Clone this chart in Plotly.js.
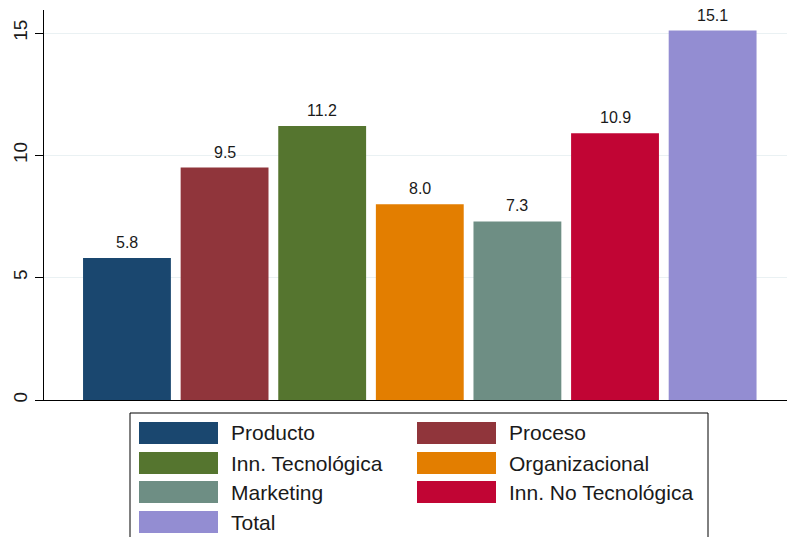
<!DOCTYPE html>
<html>
<head>
<meta charset="utf-8">
<script src="https://cdn.plot.ly/plotly-3.0.1.min.js"></script>
<style>html,body{margin:0;padding:0;background:#fff;}#chart{width:787px;height:537px;}</style>
</head>
<body>
<div id="chart"></div>
<script>
var categories = ["Producto", "Proceso", "Inn. Tecnológica", "Organizacional", "Marketing", "Inn. No Tecnológica", "Total"];
var values = [5.8, 9.5, 11.2, 8.0, 7.3, 10.9, 15.1];
var colors = ["#1a476f", "#90353b", "#55752f", "#e37e00", "#6e8e84", "#c10534", "#938dd2"];
var yTicks = [0, 5, 10, 15];

var W = 787, H = 537;
var M = {l: 44, r: 0, t: 10, b: 137};
function px(x) { return (x - M.l) / (W - M.l - M.r); }
function py(y) { return (H - M.b - y) / (H - M.t - M.b); }

var FONT = "Liberation Sans, Arial, Helvetica, sans-serif";

var traces = categories.map(function (c, i) {
  return {
    type: "bar",
    x: [c],
    y: [values[i]],
    name: c,
    width: 0.9,
    marker: {color: colors[i], line: {width: 0}},
    showlegend: false,
    hoverinfo: "none"
  };
});

var annotations = categories.map(function (c, i) {
  return {
    x: c, y: values[i], xref: "x", yref: "y",
    text: values[i].toFixed(1),
    showarrow: false, yanchor: "bottom", yshift: 5,
    font: {family: FONT, size: 16, color: "#1a1a1a"}
  };
});

var shapes = [];
// legend box
shapes.push({type: "rect", xref: "paper", yref: "paper",
  x0: px(130), x1: px(708), y0: py(413), y1: py(560),
  line: {color: "#000", width: 1}, fillcolor: "rgba(0,0,0,0)", layer: "above"});
var colX = [139, 417], textX = [229, 507], rowTop = [422, 452, 481, 511];
categories.forEach(function (c, i) {
  var col = i % 2, row = Math.floor(i / 2);
  shapes.push({type: "rect", xref: "paper", yref: "paper",
    x0: px(colX[col]), x1: px(colX[col] + 79),
    y0: py(rowTop[row] + 22), y1: py(rowTop[row]),
    line: {width: 0}, fillcolor: colors[i], layer: "above"});
  annotations.push({xref: "paper", yref: "paper",
    x: px(textX[col]), y: py(rowTop[row] + 11),
    xanchor: "left", yanchor: "middle", showarrow: false,
    text: c, font: {family: FONT, size: 21, color: "#1a1a1a"}});
});

var layout = {
  width: W, height: H,
  margin: M,
  paper_bgcolor: "#fff", plot_bgcolor: "#fff",
  barmode: "overlay",
  showlegend: false,
  font: {family: FONT, color: "#1a1a1a"},
  xaxis: {
    type: "category",
    range: [-0.850, 6.762],
    showticklabels: false, ticks: "",
    showgrid: false, zeroline: false,
    showline: true, linecolor: "#000", linewidth: 1
  },
  yaxis: {
    range: [0, 15.94],
    tickvals: yTicks, ticktext: yTicks.map(String),
    tickangle: -90,
    ticks: "outside", ticklen: 8, tickcolor: "#000", tickwidth: 1,
    tickfont: {family: FONT, size: 19, color: "#1a1a1a"},
    showgrid: true, gridcolor: "#eaf1f3", gridwidth: 1,
    zeroline: false,
    showline: true, linecolor: "#000", linewidth: 1
  },
  shapes: shapes,
  annotations: annotations
};

Plotly.newPlot("chart", traces, layout, {staticPlot: true, displayModeBar: false});
</script>
</body>
</html>
